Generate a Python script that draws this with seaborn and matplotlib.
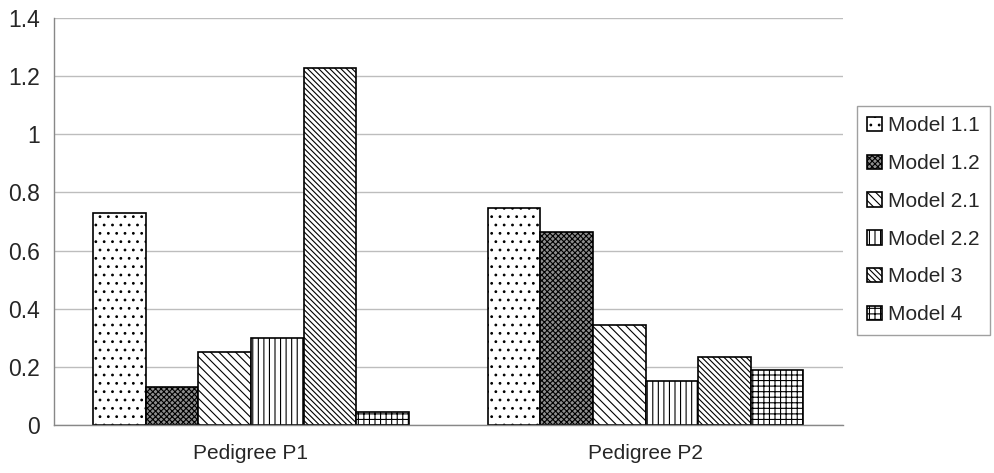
import matplotlib
matplotlib.use("Agg")
import matplotlib.pyplot as plt
import seaborn as sns
import pandas as pd

# ---- data ----
pedigrees = ["Pedigree P1", "Pedigree P2"]
models = ["Model 1.1", "Model 1.2", "Model 2.1", "Model 2.2", "Model 3", "Model 4"]
p1_values = [0.73, 0.13, 0.25, 0.30, 1.228, 0.045]
p2_values = [0.745, 0.665, 0.345, 0.15, 0.235, 0.19]
y_ticks = [0, 0.2, 0.4, 0.6, 0.8, 1.0, 1.2, 1.4]
y_tick_labels = ["0", "0.2", "0.4", "0.6", "0.8", "1", "1.2", "1.4"]

rows = []
for m, v in zip(models, p1_values):
    rows.append({"pedigree": pedigrees[0], "model": m, "value": v})
for m, v in zip(models, p2_values):
    rows.append({"pedigree": pedigrees[1], "model": m, "value": v})
df = pd.DataFrame(rows)

sns.set_style("white")
plt.rcParams["font.family"] = ["Liberation Sans", "DejaVu Sans"]
plt.rcParams["hatch.linewidth"] = 0.8
plt.rcParams["hatch.color"] = "black"

fig = plt.figure(figsize=(9.95, 4.73), dpi=100)
ax = fig.add_axes([0.054, 0.1015, 0.793, 0.8605])

sns.barplot(data=df, x="pedigree", y="value", hue="model", order=pedigrees,
            hue_order=models, width=0.8, ax=ax, palette=["white"] * 6,
            edgecolor="black", linewidth=1.2, legend=False, saturation=1)

hatches = ["..", "xxxxxx", "\\\\\\\\", "|||", "\\\\\\\\\\\\", "+++"]
faces = ["white", "#8f8f8f", "white", "white", "white", "white"]
for cont, h, fc in zip(ax.containers, hatches, faces):
    for p in cont.patches:
        p.set_hatch(h)
        p.set_facecolor(fc)
        p.set_edgecolor("black")

ax.set_xlim(-0.5, 1.5)
ax.set_ylim(0, 1.4)
ax.set_yticks(y_ticks)
ax.set_yticklabels(y_tick_labels, fontsize=16.5)
ax.set_xlabel("")
ax.set_ylabel("")
ax.tick_params(axis="x", which="major", length=0, labelsize=15, pad=14)
ax.set_xticks([-0.5, 0.5, 1.5], minor=True)
ax.tick_params(axis="x", which="minor", length=6, color="#888888", width=1)
ax.tick_params(axis="y", length=6, color="#888888", width=1, pad=4)
ax.yaxis.grid(True, color="#bdbdbd", linewidth=1)
ax.set_axisbelow(True)
for s in ["top", "right"]:
    ax.spines[s].set_visible(False)
for s in ["left", "bottom"]:
    ax.spines[s].set_color("#888888")
    ax.spines[s].set_linewidth(1)

leg = fig.legend(ax.containers, models, loc="upper left",
                 bbox_to_anchor=(0.861, 0.776), fontsize=15, frameon=True,
                 fancybox=False, edgecolor="#888888", handlelength=0.7,
                 handleheight=0.7, handletextpad=0.3, labelspacing=0.9,
                 borderpad=0.5, borderaxespad=0)
leg.get_frame().set_linewidth(1)

fig.savefig("out.png", dpi=100)
